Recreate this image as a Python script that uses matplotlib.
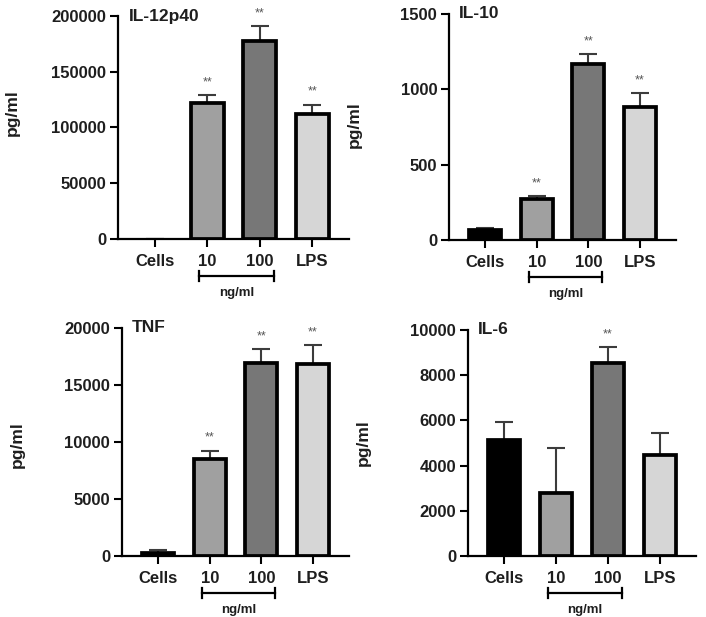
import numpy as np
import matplotlib
matplotlib.use("Agg")
import matplotlib.pyplot as plt
from matplotlib.transforms import offset_copy

plt.rcParams['font.family'] = ['Liberation Sans', 'DejaVu Sans']
plt.rcParams['font.weight'] = 'bold'

groups = ["Cells", "10", "100", "LPS"]
bar_colors = ["#000000", "#a0a0a0", "#777777", "#d6d6d6"]

# 每个面板的数值
il12_mean = [0, 122000, 178000, 112000]
il12_err = [0, 7000, 13000, 8500]
il12_sig = ["", "**", "**", "**"]

il10_mean = [66, 272, 1170, 880]
il10_err = [16, 20, 65, 93]
il10_sig = ["", "**", "**", "**"]

tnf_mean = [250, 8500, 16900, 16800]
tnf_err = [320, 750, 1250, 1700]
tnf_sig = ["", "**", "**", "**"]

il6_mean = [5150, 2780, 8540, 4490]
il6_err = [800, 2000, 690, 940]
il6_sig = ["", "", "**", ""]

panels = [
    ("IL-12p40", il12_mean, il12_err, il12_sig, [0, 50000, 100000, 150000, 200000],
     [118 / 706, 1 - 239 / 617, 231 / 706, 223 / 617], -0.424, 0.565),
    ("IL-10", il10_mean, il10_err, il10_sig, [0, 500, 1000, 1500],
     [449 / 706, 1 - 240 / 617, 227 / 706, 226 / 617], -0.386, 0.51),
    ("TNF", tnf_mean, tnf_err, tnf_sig, [0, 5000, 10000, 15000, 20000],
     [122 / 706, 1 - 556 / 617, 227 / 706, 228 / 617], -0.428, 0.49),
    ("IL-6", il6_mean, il6_err, il6_sig, [0, 2000, 4000, 6000, 8000, 10000],
     [468 / 706, 1 - 556 / 617, 228 / 706, 226 / 617], -0.425, 0.5),
]

fig = plt.figure(figsize=(7.06, 6.17), dpi=100)

for title, mean, err, sig, yticks, rect, ylab_x, ylab_y in panels:
    ax = fig.add_axes(rect)
    x = np.arange(len(groups))

    ax.errorbar(x, mean, yerr=[np.zeros(len(err)), err], fmt="none",
                ecolor="#3c3c3c", elinewidth=1.5, capsize=6.5, capthick=1.5,
                zorder=2)
    # 高度为 0 的柱子不画边框
    edge_w = [2.7 if m > 0 else 0 for m in mean]
    ax.bar(x, mean, width=0.62, color=bar_colors, edgecolor="black",
           linewidth=edge_w, zorder=3)

    for xi, m, e, s in zip(x, mean, err, sig):
        if s:
            ax.annotate(s, xy=(xi, m + e), xytext=(0, 5), textcoords="offset points",
                        ha="center", va="bottom", fontsize=9, color="#555555",
                        fontweight="normal")

    ax.set_xlim(-0.7, 3.7)
    ax.set_ylim(0, yticks[-1])
    ax.set_yticks(yticks)
    ax.set_yticklabels([str(t) for t in yticks])
    ax.set_xticks(x)
    ax.set_xticklabels(groups)
    ax.tick_params(axis="both", labelsize=12, width=1.5, length=5.5, pad=5,
                   labelcolor="#1e1e1e")
    ax.tick_params(axis="y", pad=3)
    for sp in ["top", "right"]:
        ax.spines[sp].set_visible(False)
    for sp in ["left", "bottom"]:
        ax.spines[sp].set_linewidth(1.6)

    ax.set_ylabel("pg/ml", fontsize=12.5, fontweight="bold", color="#1e1e1e")
    ax.yaxis.set_label_coords(ylab_x, ylab_y)

    ax.text(0.045, 1.0, title, transform=ax.transAxes, ha="left", va="center",
            fontsize=12.5, fontweight="bold", color="#1e1e1e")

    # ng/ml 括号
    tr = offset_copy(ax.get_xaxis_transform(), fig=fig, y=-37, units="dots")
    ax.plot([0.85, 2.27], [0, 0], color="black", lw=1.6, transform=tr, clip_on=False)
    for bx in [0.85, 2.27]:
        ax.plot([bx, bx], [-0.022, 0.022], color="black", lw=1.6,
                transform=tr, clip_on=False)
    tr_t = offset_copy(ax.get_xaxis_transform(), fig=fig, y=-54, units="dots")
    ax.text(1.56, 0, "ng/ml", transform=tr_t, ha="center", va="center",
            fontsize=9.5, fontweight="bold", color="#1e1e1e")

fig.savefig("out.png", dpi=100)
